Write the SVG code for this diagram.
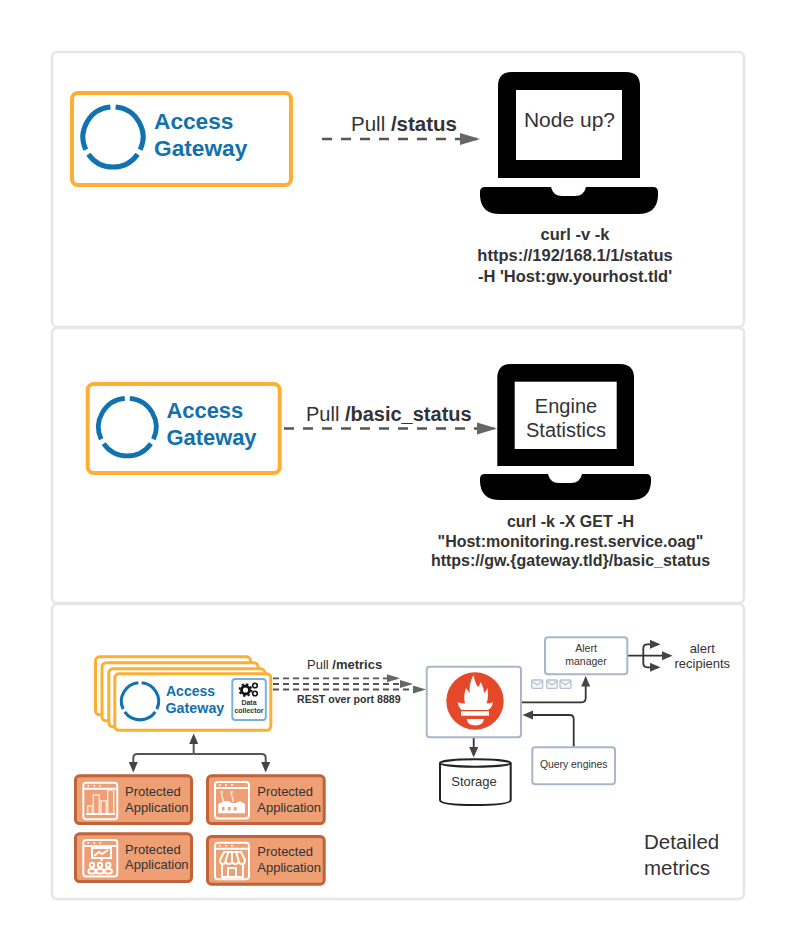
<svg xmlns="http://www.w3.org/2000/svg" xmlns:xlink="http://www.w3.org/1999/xlink" width="800" height="943" viewBox="0 0 800 943">
<style>
text{font-family:"Liberation Sans",Arial,sans-serif;fill:#333}
.b{font-weight:700}
.panel{fill:#fff;stroke:#e6e6e6;stroke-width:2.5}
.gw{fill:#fff;stroke:#fdaf33;stroke-width:4}
.gw3{fill:#fff;stroke:#fdaf33;stroke-width:3}
.brand{fill:#1270ad;font-weight:700}
.ring{fill:none;stroke:#1272b0;stroke-width:5}
.laptop{fill:#000}
.screen{fill:#fff}
.dash{fill:none;stroke:#555;stroke-width:2.5;stroke-dasharray:10 9}
.dash3{fill:none;stroke:#555;stroke-width:1.8;stroke-dasharray:6 4}
.conn{fill:none;stroke:#555;stroke-width:2}
.dark{fill:none;stroke:#333;stroke-width:1.8}
.app{fill:#ee9f74;stroke:#c0623a;stroke-width:3}
.ic{fill:none;stroke:#fff;stroke-width:2}
.icl{fill:none;stroke:#fde3d3;stroke-width:1.5}
.icf{fill:#fff}
.sm{fill:#fff;stroke:#a9b6c9;stroke-width:2}
.env{fill:#f5f7fa;stroke:#b5c1d3;stroke-width:1.3}
.pt{font-size:13px}
</style>
<defs>
<marker id="h1" markerUnits="userSpaceOnUse" markerWidth="22" markerHeight="14" refX="17" refY="7" orient="auto"><path d="M0,1 L20,7 L0,13 Z" fill="#666"/></marker>
<marker id="h3" markerUnits="userSpaceOnUse" markerWidth="14" markerHeight="10" refX="10" refY="4" orient="auto"><path d="M0,0 L13,4 L0,8 Z" fill="#666"/></marker>
<marker id="hc" markerUnits="userSpaceOnUse" markerWidth="12" markerHeight="10" refX="8" refY="4.5" orient="auto"><path d="M0,0 L10.5,4.5 L0,9 Z" fill="#444"/></marker>
<g id="ring">
<path class="ring" d="M2.6,-29.9 A30,30 0 0 1 27.2,12.7"/>
<path class="ring" d="M24.6,17.2 A30,30 0 0 1 -24.6,17.2"/>
<path class="ring" d="M-27.2,12.7 A30,30 0 0 1 -2.6,-29.9"/>
</g>
<g id="win">
<rect class="ic" x="1" y="1" width="34" height="36.500" rx="3"/>
<path class="ic" d="M1,7 H35" stroke-width="1.500"/>
<circle class="icf" cx="6" cy="4" r="0.900"/><circle class="icf" cx="12" cy="4" r="0.900"/><circle class="icf" cx="18" cy="4" r="0.900"/>
</g>
</defs>

<rect width="800" height="943" fill="#fff"/>
<g id="panels">
<rect class="panel" x="52" y="52" width="692" height="275" rx="5"/>
<rect class="panel" x="52" y="328" width="692" height="275" rx="5"/>
<rect class="panel" x="52" y="604" width="692" height="295" rx="5"/>
</g>

<g id="connectors">
<path class="dash" d="M322,139 H477" marker-end="url(#h1)"/>
<path class="dash" d="M284,428.500 H494" marker-end="url(#h1)"/>
<path class="dash3" d="M273,678.300 H397" marker-end="url(#h3)"/>
<path class="dash3" d="M273,684 H410" marker-end="url(#h3)"/>
<path class="dash3" d="M273,689.500 H423" marker-end="url(#h3)"/>
<path class="conn" d="M193.700,754 V736" marker-end="url(#hc)"/>
<path class="conn" d="M193.700,754 H137.300 Q133.300,754 133.300,758 V770" marker-end="url(#hc)"/>
<path class="conn" d="M193.700,754 H261.700 Q265.700,754 265.700,758 V770" marker-end="url(#hc)"/>
<path class="dark" d="M521,702.300 H581.700 Q585.700,702.300 585.700,698.300 V678.500" marker-end="url(#hc)"/>
<path class="dark" d="M573.700,746.700 V719 Q573.700,715 569.700,715 H525" marker-end="url(#hc)"/>
<path class="dark" d="M473.700,737.300 V755" marker-end="url(#hc)"/>
<path class="dark" d="M627.300,655.700 H670" marker-end="url(#hc)"/>
<path class="dark" d="M643.300,655.700 V648.300 Q643.300,644.300 647.300,644.300 H658" marker-end="url(#hc)"/>
<path class="dark" d="M643.300,655.700 V663.300 Q643.300,667.300 647.300,667.300 H658" marker-end="url(#hc)"/>
</g>

<g id="gateway-1">
<rect class="gw" x="72" y="93" width="219" height="92" rx="6"/>
<use xlink:href="#ring" transform="translate(113,137)"/>
<text class="brand" x="154" y="128.500" font-size="22.700">Access</text>
<text class="brand" x="154" y="156" font-size="22.700">Gateway</text>
</g>
<g id="label-status"><text x="351" y="131" font-size="20.500">Pull <tspan class="b">/status</tspan></text></g>
<g id="laptop-1">
<path class="laptop" d="M512,72 H626 Q640,72 640,86 V178 H498 V86 Q498,72 512,72 Z"/>
<rect class="screen" x="516" y="90" width="106" height="70"/>
<path class="laptop" d="M485,187 H551 Q553,196 562,196 H575 Q584,196 586,187 H653 Q658,187 658,192 V196 Q657,214 638,214 H500 Q481,214 480,196 V192 Q480,187 485,187 Z"/>
<text x="569.500" y="127" font-size="21" text-anchor="middle">Node up?</text>
</g>
<g id="caption-1" class="b" font-size="16.500" text-anchor="middle">
<text x="575" y="240">curl -v -k</text>
<text x="575" y="261">https://192/168.1/1/status</text>
<text x="575" y="282">-H 'Host:gw.yourhost.tld'</text>
</g>

<g id="gateway-2">
<rect class="gw" x="87.700" y="384" width="192" height="89" rx="6"/>
<use xlink:href="#ring" transform="translate(127.300,427) scale(0.96)"/>
<text class="brand" x="166.500" y="418" font-size="21.900">Access</text>
<text class="brand" x="166.500" y="445" font-size="21.900">Gateway</text>
</g>
<g id="label-basic"><text x="306" y="421" font-size="20">Pull <tspan class="b">/basic_status</tspan></text></g>
<g id="laptop-2">
<path class="laptop" d="M511,364 H620 Q634,364 634,378 V466 H497.300 V378 Q497.300,364 511,364 Z"/>
<rect class="screen" x="514.700" y="381.700" width="102" height="67.300"/>
<path class="laptop" d="M485,474 H548 Q550,483 559,483 H571 Q580,483 582,474 H646 Q651,474 651,479 V482 Q650,500 631,500 H500 Q481,500 480,482 V479 Q480,474 485,474 Z"/>
<text x="566" y="412.500" font-size="20" text-anchor="middle">Engine</text>
<text x="566" y="436.700" font-size="20" text-anchor="middle">Statistics</text>
</g>
<g id="caption-2" class="b" font-size="16" text-anchor="middle">
<text x="570.500" y="527">curl -k -X GET -H</text>
<text x="570.500" y="546.700">"Host:monitoring.rest.service.oag"</text>
<text x="570.500" y="566">https://gw.{gateway.tld}/basic_status</text>
</g>

<g id="gateway-stack">
<rect class="gw3" x="95.500" y="656.800" width="155" height="58" rx="4"/>
<rect class="gw3" x="102" y="662.800" width="156" height="58" rx="4"/>
<rect class="gw3" x="108.800" y="668.800" width="156" height="58" rx="4"/>
<rect class="gw3" x="114.800" y="673.800" width="156" height="56.500" rx="4"/>
<use xlink:href="#ring" transform="translate(140,701.300) scale(0.62)"/>
<text class="brand" x="166" y="695.500" font-size="14">Access</text>
<text class="brand" x="165.500" y="712.700" font-size="14.300">Gateway</text>
</g>
<g id="data-collector">
<rect x="232.300" y="679" width="33.500" height="41" rx="3" fill="#fff" stroke="#79b1dd" stroke-width="2"/>
<circle cx="245.500" cy="690" r="4" fill="none" stroke="#111" stroke-width="2.800"/>
<circle cx="245.500" cy="690" r="6" fill="none" stroke="#111" stroke-width="1.800" stroke-dasharray="2.300 2.400"/>
<circle cx="255" cy="685.500" r="2.300" fill="none" stroke="#111" stroke-width="1.600"/>
<circle cx="255" cy="693.500" r="2.300" fill="none" stroke="#111" stroke-width="1.600"/>
<text class="b" x="249" y="705" font-size="7" text-anchor="middle">Data</text>
<text class="b" x="249" y="713" font-size="7" text-anchor="middle">collector</text>
</g>
<g id="label-metrics"><text x="307" y="668.500" font-size="13">Pull <tspan class="b">/metrics</tspan></text>
<text class="b" x="297" y="703" font-size="10.600">REST over port 8889</text></g>

<g id="app-1">
<rect class="app" x="75.500" y="775.800" width="116" height="47.700" rx="4"/>
<use xlink:href="#win" transform="translate(82.300,781.700)"/>
<path class="icl" d="M87.700,813.300 V806 H92.300 V813.300 M93.300,813.300 V795 H99.300 V813.300 M101,813.300 V800.700 H106.300 V813.300 M107.700,813.300 V790 H113.700 V813.300"/>
<path class="ic" d="M86,814 H115" stroke-width="1.500"/>
<text class="pt" x="125" y="796">Protected</text><text class="pt" x="125" y="811.700">Application</text>
</g>
<g id="app-2">
<rect class="app" x="207.500" y="775.800" width="116.700" height="47.700" rx="4"/>
<use xlink:href="#win" transform="translate(214,781)"/>
<path class="icl" d="M223.300,792 H221 L223.500,802 M233.300,792 H231 L233.500,802"/>
<path class="icf" d="M218.300,813.300 V804 L224,801 H228 L232,803 H236 L240,801 L245,804 V813.300 Z"/>
<g fill="#ee9f74"><rect x="222" y="807" width="2.500" height="3.500"/><rect x="228" y="807" width="2.500" height="3.500"/><rect x="234" y="807" width="2.500" height="3.500"/></g>
<text class="pt" x="257.300" y="796">Protected</text><text class="pt" x="257.300" y="811.700">Application</text>
</g>
<g id="app-3">
<rect class="app" x="75.500" y="833.800" width="116" height="47.700" rx="4"/>
<use xlink:href="#win" transform="translate(82.300,839)"/>
<rect class="ic" x="92" y="848" width="19" height="10" stroke-width="1.300"/>
<path class="ic" d="M94,856 L99,852 L102,854 L108,850" stroke-width="1.200"/>
<path class="ic" d="M101.500,858 V861" stroke-width="1.200"/>
<g class="ic" stroke-width="1.200"><circle cx="92" cy="865" r="2.200"/><circle cx="100" cy="865" r="2.200"/><circle cx="108.300" cy="865" r="2.200"/>
<rect x="88.500" y="869" width="7" height="4.500" rx="2"/><rect x="96.500" y="869" width="7" height="4.500" rx="2"/><rect x="104.800" y="869" width="7" height="4.500" rx="2"/></g>
<text class="pt" x="125" y="853.700">Protected</text><text class="pt" x="125" y="869.300">Application</text>
</g>
<g id="app-4">
<rect class="app" x="207.500" y="836.500" width="116.700" height="47.700" rx="4"/>
<use xlink:href="#win" transform="translate(214,841.700)"/>
<path class="ic" d="M224,852 H241 L245,860 Q245,864 241.800,864 Q238.500,864 238.500,860 Q238.500,864 235.300,864 Q232,864 232,860 Q232,864 229,864 Q225.700,864 225.700,860 Q225.700,864 222.800,864 Q220,864 220,860 Z M228.500,852 L225.700,860 M236,852 L238.500,860 M232,852 V860" stroke-width="1.500"/>
<path class="ic" d="M222,864 V877 H243 V864 M228,877 V868 H236 V877" stroke-width="1.500"/>
<text class="pt" x="257.300" y="856">Protected</text><text class="pt" x="257.300" y="872">Application</text>
</g>

<g id="prometheus">
<rect class="sm" x="426.700" y="666.700" width="94.300" height="70.600" rx="3"/>
<circle cx="475" cy="701" r="28.700" fill="#e6492a"/>
<path class="icf" d="M457.700,702.300 Q462,704 465,703.500 Q463,697 466,688 Q468,691 469.500,693 Q469,683 473.500,675 Q475,683 478,687 Q480,685 480.500,682 Q484,688 484,693 Q486,692 487.500,688 Q489,697 486.500,703.500 Q490,703.500 493,702.300 Q492,708 488,710 H462 Q458.500,708 457.700,702.300 Z"/>
<rect class="icf" x="461" y="711.300" width="28" height="4.400"/>
<path class="icf" d="M466.700,719 H484 Q483,725.500 475.300,725.500 Q467.500,725.500 466.700,719 Z"/>
</g>
<g id="envelopes">
<g class="env"><rect x="531.700" y="680" width="11" height="8.300" rx="1"/><path d="M531.700,681 L537.200,685 L542.700,681" fill="none"/></g>
<g class="env"><rect x="546.700" y="680" width="10.500" height="8.300" rx="1"/><path d="M546.700,681 L552,685 L557.200,681" fill="none"/></g>
<g class="env"><rect x="560" y="680" width="11" height="8.300" rx="1"/><path d="M560,681 L565.500,685 L571,681" fill="none"/></g>
</g>
<g id="alert-manager">
<rect class="sm" x="545" y="637.300" width="82.300" height="37" rx="3"/>
<text x="586" y="652.300" font-size="10.500" text-anchor="middle">Alert</text>
<text x="586" y="665" font-size="10.500" text-anchor="middle">manager</text>
</g>
<g id="query-engines">
<rect class="sm" x="532.300" y="747.300" width="82.700" height="37" rx="3"/>
<text x="573.700" y="768.300" font-size="10.400" text-anchor="middle">Query engines</text>
</g>
<g id="storage">
<path d="M440,763 V800 Q440,805 475.300,805 Q510.700,805 510.700,800 V763" fill="#fff" stroke="#222" stroke-width="2"/>
<ellipse cx="475.300" cy="763" rx="35.300" ry="3.700" fill="#fff" stroke="#222" stroke-width="2"/>
<text x="474" y="786" font-size="13" text-anchor="middle">Storage</text>
</g>
<g id="alert-recipients">
<text x="702.300" y="652.700" font-size="13" text-anchor="middle">alert</text>
<text x="702.300" y="667.700" font-size="13" text-anchor="middle">recipients</text>
</g>
<g id="detailed-metrics">
<text x="644" y="849" font-size="20.500">Detailed</text>
<text x="644" y="875" font-size="20.500">metrics</text>
</g>
</svg>
